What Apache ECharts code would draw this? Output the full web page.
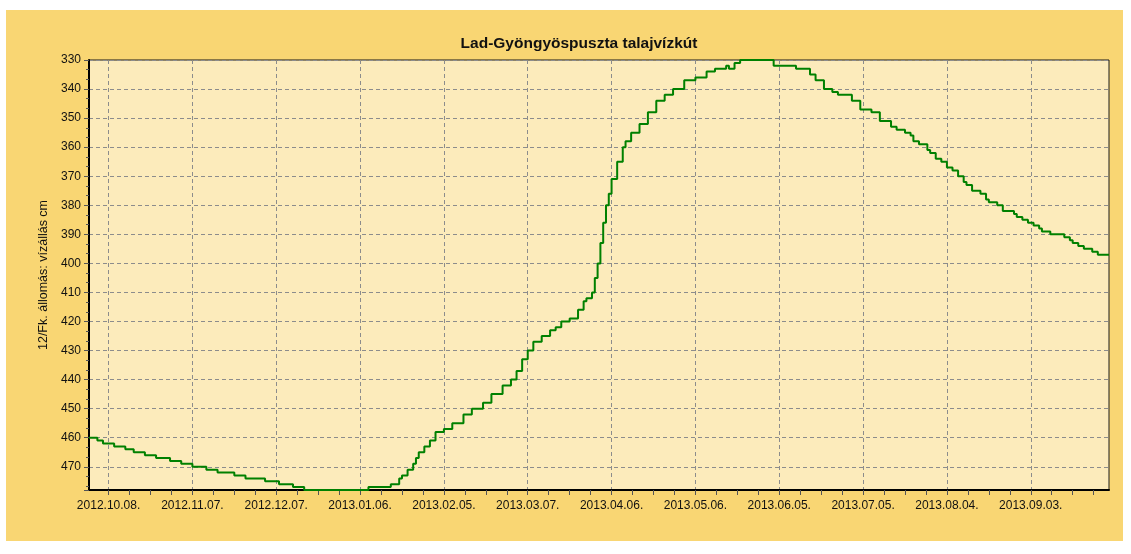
<!DOCTYPE html>
<html><head><meta charset="utf-8">
<script src="https://cdn.jsdelivr.net/npm/echarts@6/dist/echarts.min.js"></script>
<style>
html,body{margin:0;padding:0;background:#fff;}
#panel{position:absolute;left:6px;top:10px;width:1117px;height:531px;background:#F9D673;}
#c{position:absolute;left:0;top:0;width:1131px;height:554px;}
</style>
</head><body><div id="panel"></div><div id="c"></div>
<script>
const chartTitle = 'Lad-Gyöngyöspuszta talajvízkút';
const yAxisName = '12/Fk. állomás: vízállás cm';
const tickLabels = ['2012.10.08.', '2012.11.07.', '2012.12.07.', '2013.01.06.', '2013.02.05.', '2013.03.07.',
  '2013.04.06.', '2013.05.06.', '2013.06.05.', '2013.07.05.', '2013.08.04.', '2013.09.03.'];
const axisStart = '2012-10-01';
const axisEnd = '2013-10-01';
const yMin = 330, yMax = 478, yStep = 10;

const dates = [
  '2012-10-01','2012-10-04','2012-10-06','2012-10-10','2012-10-14','2012-10-17','2012-10-21','2012-10-25','2012-10-30',
  '2012-11-03','2012-11-07','2012-11-12','2012-11-16','2012-11-22','2012-11-26',
  '2012-12-03','2012-12-08','2012-12-13','2012-12-17',
  '2013-01-09','2013-01-17','2013-01-20','2013-01-21','2013-01-23','2013-01-25','2013-01-26','2013-01-27','2013-01-29','2013-01-31',
  '2013-02-02','2013-02-05','2013-02-08','2013-02-12','2013-02-15','2013-02-19','2013-02-22','2013-02-26',
  '2013-03-01','2013-03-03','2013-03-05','2013-03-07','2013-03-09','2013-03-12','2013-03-15','2013-03-17','2013-03-19',
  '2013-03-22','2013-03-25','2013-03-27','2013-03-28','2013-03-30','2013-03-31',
  '2013-04-01','2013-04-02','2013-04-03','2013-04-04','2013-04-05','2013-04-06','2013-04-08','2013-04-10','2013-04-11',
  '2013-04-13','2013-04-16','2013-04-19','2013-04-22','2013-04-25','2013-04-28',
  '2013-05-02','2013-05-06','2013-05-10','2013-05-13','2013-05-17','2013-05-18','2013-05-20','2013-05-22',
  '2013-06-03','2013-06-11','2013-06-16','2013-06-18','2013-06-21','2013-06-24','2013-06-26',
  '2013-07-01','2013-07-04','2013-07-08','2013-07-11','2013-07-15','2013-07-17','2013-07-20','2013-07-22','2013-07-23',
  '2013-07-25','2013-07-28','2013-07-29','2013-07-31',
  '2013-08-02','2013-08-04','2013-08-06','2013-08-08','2013-08-10','2013-08-11','2013-08-13','2013-08-16','2013-08-18',
  '2013-08-19','2013-08-22','2013-08-24','2013-08-28','2013-08-29','2013-08-31',
  '2013-09-02','2013-09-04','2013-09-06','2013-09-07','2013-09-10','2013-09-15','2013-09-17','2013-09-18','2013-09-20',
  '2013-09-22','2013-09-25','2013-09-27','2013-10-01'
];
const levels = [
  460,461,462,463,464,465,466,467,468,
  469,470,471,472,473,474,
  475,476,477,478,
  477,476,474,473,471,469,467,465,463,461,
  458,457,455,452,450,448,445,442,
  440,437,433,430,427,425,423,422,420,
  419,416,413,412,410,405,
  400,393,386,380,376,371,365,360,358,
  355,352,348,344,342,340,
  337,336,334,333,332,333,331,330,
  332,333,335,337,340,341,342,
  344,347,348,351,353,354,355,356,358,
  359,361,362,364,
  365,367,368,370,372,373,375,376,378,
  379,380,382,383,384,385,
  386,387,388,389,390,391,392,393,394,
  395,396,397,397
];

function dayNum(s) {
  const p = s.split(/[-.]/).filter(Boolean).map(Number);
  return (Date.UTC(p[0], p[1] - 1, p[2]) - Date.UTC(2012, 9, 1)) / 86400000;
}
const xMin = dayNum(axisStart), xMax = dayNum(axisEnd);
const majorDays = tickLabels.map(dayNum);
const labelByDay = {};
tickLabels.forEach((t, i) => { labelByDay[majorDays[i]] = t; });
const step = (majorDays[1] - majorDays[0]) / 4;
const minorDays = [];
for (let v = majorDays[0] - step; v >= xMin; v -= step) minorDays.push(v);
for (let v = majorDays[0] + step; v <= xMax; v += step) {
  if (majorDays.indexOf(v) < 0) minorDays.push(v);
}
const seriesData = dates.map((d, i) => [dayNum(d), levels[i]]);

const font = 'Liberation Sans, Arial, sans-serif';
const chart = echarts.init(document.getElementById('c'), null, { renderer: 'canvas' });
chart.setOption({
  backgroundColor: 'transparent',
  animation: false,
  title: {
    text: chartTitle, left: 574, top: 31, textAlign: 'center',
    textStyle: { fontFamily: font, fontSize: 15.5, fontWeight: 'bold', color: '#111' }
  },
  grid: {
    left: 89, right: 22, top: 60, bottom: 64, show: true,
    backgroundColor: '#FCEBBB', borderColor: '#1a1a1a', borderWidth: 1,
    outerBoundsMode: 'none'
  },
  xAxis: [{
    type: 'value', min: xMin, max: xMax, position: 'bottom',
    axisLine: { show: true, onZero: false, lineStyle: { color: '#000', width: 2 } },
    axisTick: { show: true, customValues: majorDays, length: 5, lineStyle: { color: '#555' } },
    axisLabel: {
      customValues: majorDays, margin: 10, color: '#111', fontFamily: font, fontSize: 12,
      formatter: v => labelByDay[v] || ''
    },
    splitLine: { show: true, lineStyle: { color: '#8c8c8c', width: 1, type: [4, 3] } }
  }, {
    type: 'value', min: xMin, max: xMax, position: 'bottom',
    axisLine: { show: false },
    axisTick: { show: true, customValues: minorDays, length: 5, lineStyle: { color: '#555' } },
    axisLabel: { show: false },
    splitLine: { show: false }
  }],
  yAxis: {
    type: 'value', inverse: true, min: yMin, max: yMax, interval: yStep,
    name: yAxisName, nameLocation: 'middle', nameGap: 35, nameRotate: 90,
    nameTextStyle: { fontFamily: font, fontSize: 12.5, color: '#111' },
    axisLine: { show: true, onZero: false, lineStyle: { color: '#000', width: 2 } },
    axisTick: { show: true, length: 5, lineStyle: { color: '#555' } },
    minorTick: { show: true, splitNumber: 3, length: 3, lineStyle: { color: '#555' } },
    axisLabel: { margin: 8, color: '#111', fontFamily: font, fontSize: 12, showMaxLabel: false },
    splitLine: { show: true, lineStyle: { color: '#8c8c8c', width: 1, type: [4, 3] } }
  },
  series: [{
    type: 'line', xAxisIndex: 0, data: seriesData, step: 'end', showSymbol: false, symbol: 'none',
    clip: true,
    lineStyle: { color: '#008000', width: 2 }
  }]
});
</script>
</body></html>
